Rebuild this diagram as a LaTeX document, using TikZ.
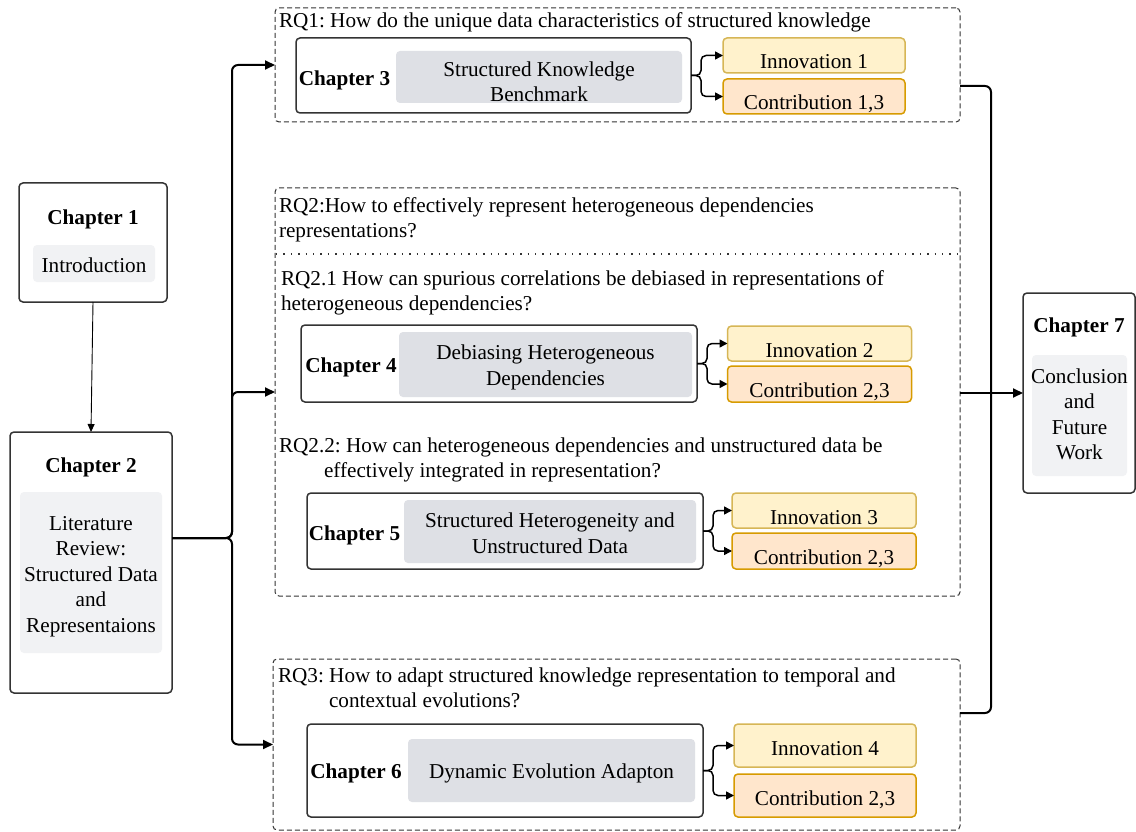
\documentclass[tikz,border=0pt]{standalone}
\usepackage{fontspec}
\setmainfont{Liberation Serif}
\usetikzlibrary{arrows.meta,calc}
\definecolor{bd}{HTML}{333333}
\definecolor{gA}{HTML}{F1F2F4}
\definecolor{gB}{HTML}{DEE0E5}
\definecolor{innof}{HTML}{FFF2CC}
\definecolor{innod}{HTML}{D6B656}
\definecolor{conf}{HTML}{FFE6CC}
\definecolor{cond}{HTML}{D79B00}
\frenchspacing
\begin{document}
\begin{tikzpicture}[x=1pt,y=-1pt,
  every node/.style={inner sep=0pt,outer sep=0pt,font=\frenchspacing\fontsize{21.2}{25.5}\selectfont},
  chbox/.style={draw=bd,line width=1.5pt,rounded corners=4pt,fill=white},
  greyA/.style={fill=gA,rounded corners=4pt,align=center},
  greyB/.style={fill=gB,rounded corners=4pt,align=center},
  gtext/.style={align=center},
  rqbox/.style={draw=bd,line width=1pt,dash pattern=on 5pt off 3pt,rounded corners=4pt},
  innobox/.style={draw=innod,line width=1.5pt,fill=innof,rounded corners=4pt},
  conbox/.style={draw=cond,line width=1.5pt,fill=conf,rounded corners=4pt},
  lowtext/.style={text height=27pt,text depth=0pt},
  midtext/.style={text height=19pt,text depth=0pt},
  chtitle/.style={anchor=base,font=\fontsize{21.2}{25.5}\selectfont\bfseries},
  rqtext/.style={anchor=base west},
  conn/.style={draw=black,line width=2pt,rounded corners=6pt,-{Triangle[length=10pt,width=9pt]}},
  plainconn/.style={draw=black,line width=2pt,rounded corners=6pt},
  bconn/.style={draw=black,line width=1.5pt,rounded corners=5pt,-{Triangle[length=8pt,width=8pt]}},
  thinconn/.style={draw=black,line width=0.9pt,-{Triangle[length=8pt,width=7pt]}},
  dotline/.style={draw=bd,line width=1.4pt,dash pattern=on 1.4pt off 6pt}
]
\useasboundingbox[fill=white] (0,0) rectangle (1136,832);

% Chapter 1
\node[chbox,minimum width=148pt,minimum height=119pt] (ch1) at (93,242.5) {};
\node[chtitle] (ch1t) at (93,225) {Chapter 1};
\node[greyA,minimum width=122pt,minimum height=37pt] (ch1g) at (94,263.5) {};
\node[anchor=base] (ch1gt) at (94,272) {Introduction};

% Chapter 2
\node[chbox,minimum width=162pt,minimum height=261pt] (ch2) at (91,562.5) {};
\node[chtitle] (ch2t) at (91,472) {Chapter 2};
\node[greyA,minimum width=142pt,minimum height=161pt] (ch2g) at (91,572.5) {};
\node[gtext] (ch2gt) at (91,576.5) {Literature\\Review:\\Structured Data\\and\\Representaions};

% Chapter 7
\node[chbox,minimum width=112pt,minimum height=200pt] (ch7) at (1079,393) {};
\node[chtitle] (ch7t) at (1079,332) {Chapter 7};
\node[greyA,minimum width=95pt,minimum height=121pt] (ch7g) at (1079.5,415.5) {};
\node[gtext] (ch7gt) at (1079.5,414.5) {Conclusion\\and\\Future\\Work};

% RQ dashed boxes
\node[rqbox,minimum width=685pt,minimum height=114pt] (rq1) at (617.5,65) {};
\node[rqbox,minimum width=685pt,minimum height=408pt] (rq2) at (617.5,392) {};
\node[rqbox,minimum width=687pt,minimum height=171pt] (rq3) at (616.5,744.5) {};
\draw[dotline] (276,254) -- (959,254);

% RQ texts
\node[rqtext] (rq1a) at (279,28) {RQ1: How do the unique data characteristics of structured knowledge};
\node[rqtext] (rq2a) at (279,212) {RQ2:How to effectively represent heterogeneous dependencies};
\node[rqtext] (rq2b) at (279,237) {representations?};
\node[rqtext] (rq21a) at (281,285) {RQ2.1 How can spurious correlations be debiased in representations of};
\node[rqtext] (rq21b) at (281,310) {heterogeneous dependencies?};
\node[rqtext] (rq22a) at (279,452) {RQ2.2: How can heterogeneous dependencies and unstructured data be};
\node[rqtext] (rq22b) at (324,477) {effectively integrated in representation?};
\node[rqtext] (rq3a) at (278,682) {RQ3: How to adapt structured knowledge representation to temporal and};
\node[rqtext] (rq3b) at (329,707) {contextual evolutions?};

% Chapter 3
\node[chbox,minimum width=395pt,minimum height=75pt] (ch3) at (493.5,75.5) {};
\node[chtitle] (ch3t) at (344.5,86) {Chapter 3};
\node[greyB,minimum width=286pt,minimum height=52pt] (ch3g) at (539,77) {};
\node[gtext] (ch3gt) at (539,82) {Structured Knowledge\\Benchmark};
\node[innobox,lowtext,minimum width=182pt,minimum height=35pt] (in1) at (814,55.5) {Innovation 1};
\node[conbox,lowtext,minimum width=182pt,minimum height=35pt] (co1) at (814,96.5) {Contribution 1,3};

% Chapter 4
\node[chbox,minimum width=396pt,minimum height=77pt] (ch4) at (499,363.5) {};
\node[chtitle] (ch4t) at (351,372) {Chapter 4};
\node[greyB,minimum width=293pt,minimum height=65pt] (ch4g) at (545.5,364.5) {};
\node[gtext] (ch4gt) at (545.5,367.5) {Debiasing Heterogeneous\\Dependencies};
\node[innobox,lowtext,minimum width=184pt,minimum height=35pt] (in2) at (819.5,343.5) {Innovation 2};
\node[conbox,lowtext,minimum width=184pt,minimum height=36pt] (co2) at (819.5,384) {Contribution 2,3};

% Chapter 5
\node[chbox,minimum width=396pt,minimum height=76pt] (ch5) at (505,531) {};
\node[chtitle] (ch5t) at (354.5,540) {Chapter 5};
\node[greyB,minimum width=292pt,minimum height=63pt] (ch5g) at (550,531.5) {};
\node[gtext] (ch5gt) at (550,533) {Structured Heterogeneity and\\Unstructured Data};
\node[innobox,lowtext,minimum width=184pt,minimum height=35pt] (in3) at (824,510.5) {Innovation 3};
\node[conbox,lowtext,minimum width=184pt,minimum height=36pt] (co3) at (824,551) {Contribution 2,3};

% Chapter 6
\node[chbox,minimum width=396pt,minimum height=93pt] (ch6) at (505,770.5) {};
\node[chtitle] (ch6t) at (356,778) {Chapter 6};
\node[greyB,minimum width=287pt,minimum height=63pt] (ch6g) at (551.5,770.5) {};
\node[anchor=base] (ch6gt) at (551.5,778) {Dynamic Evolution Adapton};
\node[innobox,midtext,minimum width=182pt,minimum height=43pt] (in4) at (825,745.5) {Innovation 4};
\node[conbox,midtext,minimum width=182pt,minimum height=43pt] (co4) at (825,795.5) {Contribution 2,3};

% Connectors left
\draw[thinconn] (ch1.south) -- (ch2.north);
\coordinate (ch2out) at (ch2.east |- 0,538);
\coordinate (trunk) at (232,538);
\draw[conn] (ch2out) -- (trunk) |- (rq1.west);
\draw[conn] (ch2out) -- (trunk) |- (rq2.west);
\draw[conn] (ch2out) -- (trunk) |- (rq3.west);

% Connectors right
\coordinate (r1) at (rq1.east |- 0,86);
\coordinate (r3) at (rq3.east |- 0,713);
\coordinate (rj) at (991,393);
\draw[plainconn] (r1) -| (rj);
\draw[plainconn] (r3) -| (rj);
\draw[conn] (rq2.east |- ch7.west) -- (ch7.west);

% Bracket connectors
\draw[bconn] (ch3.east) -- ++(10,0) |- (in1.west);
\draw[bconn] (ch3.east) -- ++(10,0) |- (co1.west);
\draw[bconn] (ch4.east) -- ++(10,0) |- (in2.west);
\draw[bconn] (ch4.east) -- ++(10,0) |- (co2.west);
\draw[bconn] (ch5.east) -- ++(10,0) |- (in3.west);
\draw[bconn] (ch5.east) -- ++(10,0) |- (co3.west);
\draw[bconn] (ch6.east) -- ++(10,0) |- (in4.west);
\draw[bconn] (ch6.east) -- ++(10,0) |- (co4.west);
\end{tikzpicture}
\end{document}
